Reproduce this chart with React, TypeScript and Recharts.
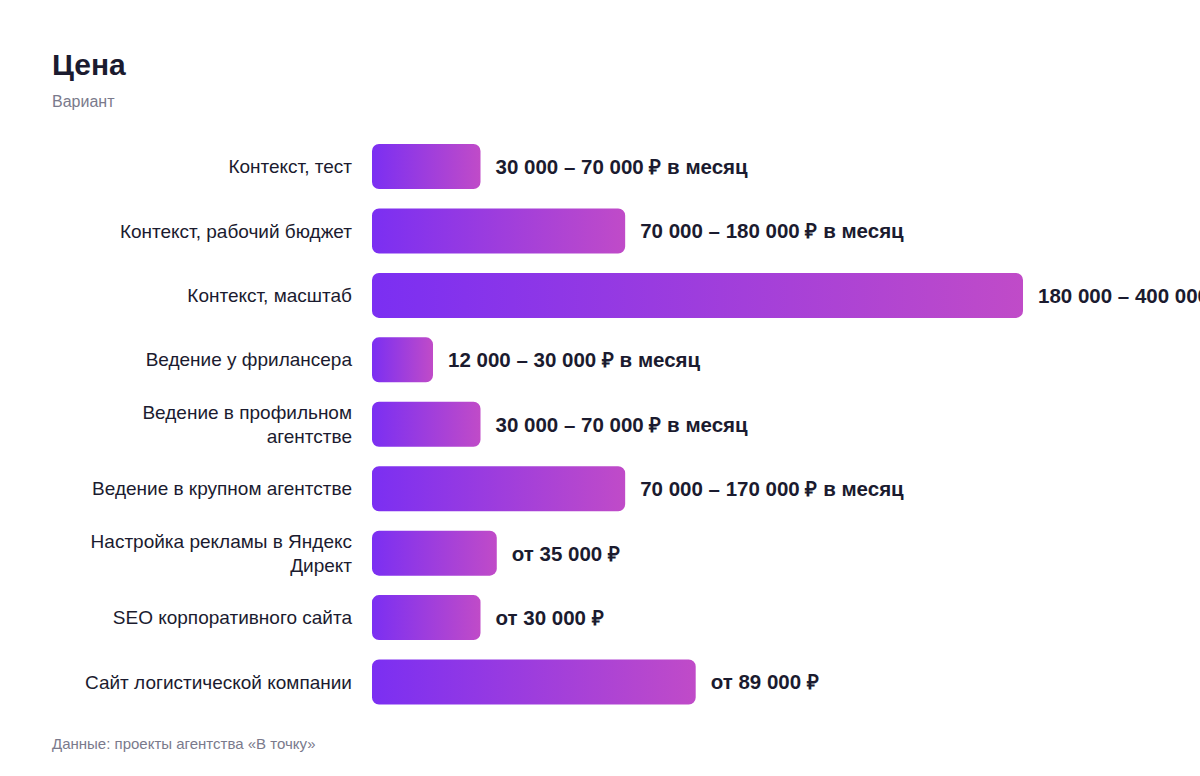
import React from "react";
import { BarChart, Bar, XAxis, YAxis, LabelList } from "recharts";

const categories = [
  "Контекст, тест",
  "Контекст, рабочий бюджет",
  "Контекст, масштаб",
  "Ведение у фрилансера",
  "Ведение в профильном агентстве",
  "Ведение в крупном агентстве",
  "Настройка рекламы в Яндекс Директ",
  "SEO корпоративного сайта",
  "Сайт логистической компании",
];

const values = [30000, 70000, 180000, 12000, 30000, 70000, 34500, 30000, 89500];

const priceLabels = [
  "30 000 – 70 000 ₽ в месяц",
  "70 000 – 180 000 ₽ в месяц",
  "180 000 – 400 000 ₽ в месяц",
  "12 000 – 30 000 ₽ в месяц",
  "30 000 – 70 000 ₽ в месяц",
  "70 000 – 170 000 ₽ в месяц",
  "от 35 000 ₽",
  "от 30 000 ₽",
  "от 89 000 ₽",
];

const data = categories.map((name, i) => ({
  name,
  value: values[i],
  label: priceLabels[i],
}));

const FONT = '"Liberation Sans", Arial, Helvetica, sans-serif';
const DARK = "#1b1b2f";
const GRAY = "#7a7a8c";

function wrap(text: string, maxChars: number): string[] {
  const words = text.split(" ");
  const lines: string[] = [];
  let cur = "";
  for (const w of words) {
    const next = cur ? cur + " " + w : w;
    if (next.length > maxChars && cur) {
      lines.push(cur);
      cur = w;
    } else {
      cur = next;
    }
  }
  if (cur) lines.push(cur);
  return lines;
}

const CategoryTick = (props: any) => {
  const { x, y, payload } = props;
  const lines = wrap(String(payload.value), 28);
  const lh = 24;
  const start = -((lines.length - 1) * lh) / 2;
  return (
    <g>
      {lines.map((l, i) => (
        <text
          key={i}
          x={x}
          y={y + start + i * lh}
          dy="0.36em"
          textAnchor="end"
          fill={DARK}
          fontSize={19}
          fontFamily={FONT}
        >
          {l}
        </text>
      ))}
    </g>
  );
};

const ValueLabel = (props: any) => {
  const { x, y, width, height, value } = props;
  return (
    <text
      x={Number(x) + Number(width) + 15}
      y={Number(y) + Number(height) / 2}
      dy="0.36em"
      textAnchor="start"
      fill={DARK}
      fontSize={20.5}
      fontWeight={700}
      fontFamily={FONT}
    >
      {value}
    </text>
  );
};

export default function App() {
  return (
    <div style={{ position: "relative", width: 1200, height: 776, background: "#fff", fontFamily: FONT, overflow: "hidden" }}>
      <style>{"body{margin:0;}"}</style>
      <div
        style={{
          position: "absolute",
          left: 52,
          top: 50,
          fontSize: 30,
          lineHeight: "30px",
          fontWeight: 700,
          color: DARK,
        }}
      >
        Цена
      </div>
      <div
        style={{
          position: "absolute",
          left: 52,
          top: 94,
          fontSize: 16,
          lineHeight: "16px",
          color: GRAY,
        }}
      >
        Вариант
      </div>
      <div style={{ position: "absolute", left: 0, top: 0 }}>
        <BarChart
          width={1200}
          height={776}
          data={data}
          layout="vertical"
          margin={{ top: 134, right: 177, bottom: 62, left: 0 }}
        >
          <defs>
            <linearGradient id="barGrad" x1="0" y1="0" x2="1" y2="0">
              <stop offset="0%" stopColor="#7b2ff2" />
              <stop offset="100%" stopColor="#c04bc8" />
            </linearGradient>
          </defs>
          <XAxis type="number" hide domain={[0, 180000]} allowDataOverflow />
          <YAxis
            type="category"
            dataKey="name"
            width={372}
            axisLine={false}
            tickLine={false}
            tickSize={0}
            tickMargin={20}
            interval={0}
            tick={<CategoryTick />}
          />
          <Bar
            dataKey="value"
            fill="url(#barGrad)"
            barSize={45}
            radius={7}
            minPointSize={61}
            isAnimationActive={false}
          >
            <LabelList dataKey="label" content={<ValueLabel />} />
          </Bar>
        </BarChart>
      </div>
      <div
        style={{
          position: "absolute",
          left: 52,
          top: 736,
          fontSize: 15,
          lineHeight: "15px",
          color: GRAY,
        }}
      >
        Данные: проекты агентства «В точку»
      </div>
    </div>
  );
}
